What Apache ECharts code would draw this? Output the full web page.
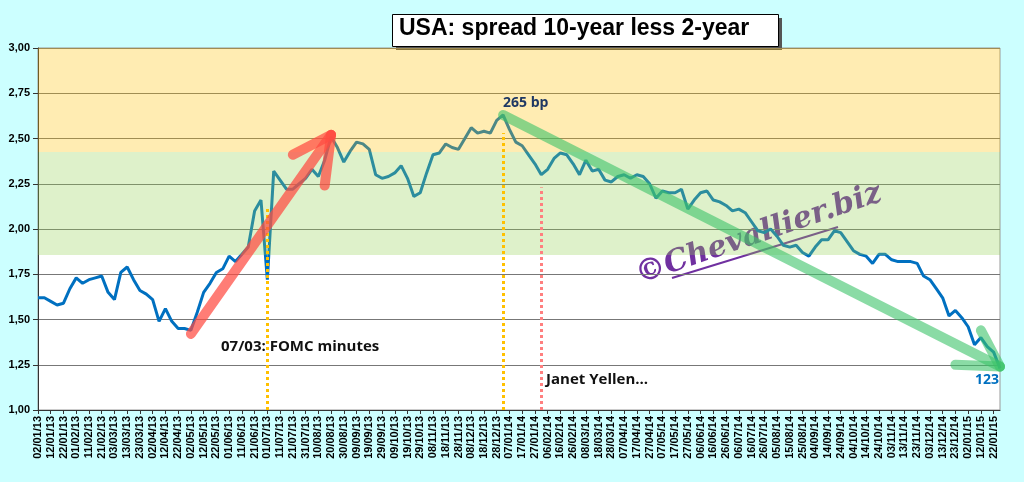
<!DOCTYPE html>
<html><head><meta charset="utf-8">
<script src="https://cdn.jsdelivr.net/npm/echarts@6/dist/echarts.min.js"></script>
<style>html,body{margin:0;padding:0;background:#CCFFFF}#c{width:1024px;height:482px}</style>
</head><body><div id="c"></div>
<script>
// spread values (%) every 5 days starting 02/01/2013
const spread = [1.62,1.62,1.60,1.58,1.59,1.67,1.73,1.70,1.72,1.73,1.74,1.65,1.61,1.76,1.79,1.72,1.66,1.64,1.61,1.49,
1.56,1.49,1.45,1.45,1.44,1.54,1.65,1.70,1.76,1.78,1.85,1.82,1.86,1.90,2.10,2.16,1.72,2.32,2.27,2.22,
2.22,2.25,2.28,2.33,2.29,2.38,2.51,2.45,2.37,2.43,2.48,2.47,2.44,2.30,2.28,2.29,2.31,2.35,2.28,2.18,
2.20,2.31,2.41,2.42,2.47,2.45,2.44,2.50,2.56,2.53,2.54,2.53,2.60,2.63,2.55,2.48,2.46,2.41,2.36,2.30,
2.33,2.39,2.42,2.41,2.36,2.30,2.38,2.32,2.33,2.27,2.26,2.29,2.30,2.28,2.30,2.29,2.25,2.17,2.21,2.20,
2.20,2.22,2.11,2.16,2.20,2.21,2.16,2.15,2.13,2.10,2.11,2.09,2.04,1.99,1.98,2.00,1.96,1.91,1.90,1.91,
1.87,1.85,1.90,1.94,1.94,1.99,1.98,1.93,1.88,1.86,1.85,1.81,1.86,1.86,1.83,1.82,1.82,1.82,1.81,1.74,
1.72,1.67,1.62,1.52,1.55,1.51,1.46,1.36,1.40,1.35,1.32,1.23];
const startDate = [2013,0,2];
const stepDays = 5;
const bandOrange = [2.425,3.0];
const bandGreen = [1.857,2.425];
const idxFOMC = 36, idxPeak = 73, idxYellen = 79;

const pad = n => String(n).padStart(2,'0');
const dates = spread.map((_,i)=>{const d=new Date(Date.UTC(startDate[0],startDate[1],startDate[2]+i*stepDays));
  return pad(d.getUTCDate())+'/'+pad(d.getUTCMonth()+1)+'/'+String(d.getUTCFullYear()).slice(2);});

const red = {color:'rgba(255,75,65,0.72)',width:10,type:'solid',cap:'round'};
const green = {color:'rgba(60,195,105,0.6)',width:10,type:'solid',cap:'round'};
const seg = (a,b,ls)=>[{coord:a,lineStyle:ls},{coord:b}];

const chart = echarts.init(document.getElementById('c'));
chart.setOption({
  backgroundColor:'#CCFFFF',
  animation:false,
  grid:{left:38,right:24,top:48,bottom:72,show:true,backgroundColor:'#fff',borderColor:'#999',borderWidth:1},
  xAxis:{type:'category',data:dates,boundaryGap:false,
    axisLine:{lineStyle:{color:'#333'}},
    axisTick:{interval:1,length:4,lineStyle:{color:'#333'}},
    axisLabel:{interval:1,rotate:90,fontSize:11,fontWeight:'bold',color:'#000',fontFamily:'Liberation Sans',margin:6}},
  yAxis:{type:'value',min:1,max:3,interval:0.25,
    axisLine:{show:true,lineStyle:{color:'#333'}},axisTick:{show:true,lineStyle:{color:'#333'}},
    splitLine:{lineStyle:{color:'#777',width:1}},
    axisLabel:{fontSize:11,fontWeight:'bold',color:'#000',fontFamily:'Liberation Sans',formatter:v=>v.toFixed(2).replace('.',',')}},
  series:[
    {type:'line',data:spread,showSymbol:false,z:2,lineStyle:{color:'#0070C0',width:3},
     markLine:{silent:true,symbol:'none',label:{show:false},data:[
        [{coord:[idxFOMC,1.0],lineStyle:{color:'#FFC000',type:[3,3],width:3}},{coord:[idxFOMC,2.12]}],
        [{coord:[idxPeak,1.0],lineStyle:{color:'#FFC000',type:[3,3],width:3}},{coord:[idxPeak,2.53]}],
        [{coord:[idxYellen,1.0],lineStyle:{color:'#FF7F7F',type:[3,3],width:3}},{coord:[idxYellen,2.23]}]
     ]}},
    {type:'line',data:[],z:5,
     markArea:{silent:true,z:5,itemStyle:{opacity:1},data:[
       [{yAxis:bandOrange[0],itemStyle:{color:'rgba(255,192,0,0.30)'}},{yAxis:bandOrange[1]}],
       [{yAxis:bandGreen[0],itemStyle:{color:'rgba(146,208,80,0.30)'}},{yAxis:bandGreen[1]}]
     ]}},
    {type:'line',data:[],z:6,
     markLine:{silent:true,z:6,label:{show:false},symbol:'none',data:[
       seg([24,1.42],[46.2,2.52],red),
       seg([46.2,2.52],[39.9,2.41],red),
       seg([46.2,2.52],[45.0,2.24],red),
       seg([73,2.63],[151.3,1.24],green),
       seg([151.3,1.24],[144,1.25],green),
       seg([151.3,1.24],[147.6,1.44],green)
     ]}}
  ],
  graphic:[
    {type:'rect',left:396,top:18,shape:{width:386,height:32},style:{fill:'#555'}},
    {type:'rect',left:392,top:14,shape:{width:386,height:32},style:{fill:'#fff',stroke:'#000',lineWidth:1}},
    {type:'text',left:399,top:17,style:{text:'USA: spread 10-year less 2-year',font:'bold 23px "Liberation Sans"',fill:'#000'}},
    {type:'text',left:221,top:339,style:{text:'07/03: FOMC minutes',font:'bold 15px "Open Sans"',fill:'#111'}},
    {type:'text',left:546,top:372,style:{text:'Janet Yellen...',font:'bold 15px "Open Sans"',fill:'#111'}},
    {type:'text',left:503,top:96,z:20,style:{text:'265 bp',font:'bold 14px "Open Sans"',fill:'#1F3864'}},
    {type:'text',left:975,top:373,style:{text:'123',font:'bold 14px "Open Sans"',fill:'#0070C0'}},
    {type:'text',x:632,y:262,rotation:0.33,style:{text:'©Chevallier.biz',font:'italic bold 30px "DejaVu Serif"',fill:'#7030A0'}},
    {type:'line',shape:{x1:672,y1:278,x2:838,y2:227},style:{stroke:'#7030A0',lineWidth:2}}
  ]
});
</script></body></html>
